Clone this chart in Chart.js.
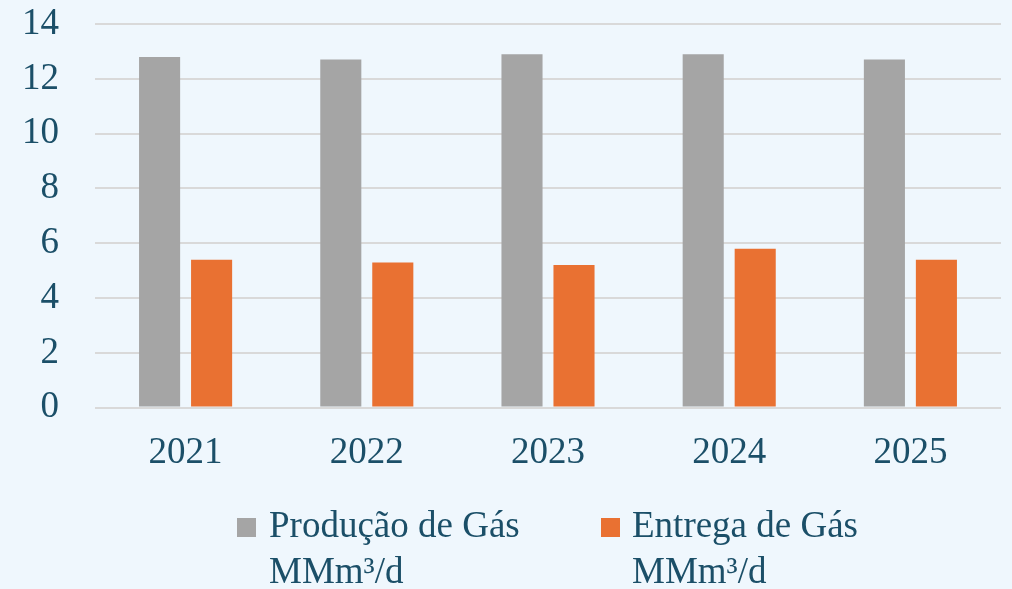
<!DOCTYPE html>
<html>
<head>
<meta charset="utf-8">
<script src="https://cdn.jsdelivr.net/npm/chart.js@4.4.0/dist/chart.umd.min.js"></script>
<style>
  html, body { margin: 0; padding: 0; background: #EFF7FD; }
  #wrap { position: relative; width: 1012px; height: 589px; background: #EFF7FD; overflow: hidden; }
  #box { position: absolute; left: 0; top: 0; width: 1012px; height: 505px; }
  .leg { position: absolute; font-family: "Liberation Serif", serif; font-size: 37px; line-height: 46px; color: #1B4F68; white-space: nowrap; }
  .sq { position: absolute; width: 19px; height: 19px; }
</style>
</head>
<body>
<div id="wrap">
  <div id="box"><canvas id="myChart"></canvas></div>
  <div class="sq" id="sq0" style="left:237px; top:518px;"></div>
  <div class="leg" id="leg0" style="left:269px; top:502px;"></div>
  <div class="sq" id="sq1" style="left:601px; top:518px;"></div>
  <div class="leg" id="leg1" style="left:632px; top:502px;"></div>
</div>
<script>
const anos = ['2021', '2022', '2023', '2024', '2025'];
const producao = [12.8, 12.7, 12.9, 12.9, 12.7];
const entrega = [5.4, 5.3, 5.2, 5.8, 5.4];
const nomes = [['Produção de Gás', 'MMm³/d'], ['Entrega de Gás', 'MMm³/d']];
const cores = ['#A5A5A5', '#E97132'];

const corTexto = '#1B4F68';
const fonte = { family: '"Liberation Serif", serif', size: 37 };

// legenda em html (duas linhas cada)
nomes.forEach((n, i) => {
    document.getElementById('sq' + i).style.background = cores[i];
    document.getElementById('leg' + i).innerHTML = n.join('<br>');
});

const ctx = document.getElementById('myChart');

new Chart(ctx, {
    type: 'bar',
    data: {
        labels: anos,
        datasets: [{
            label: nomes[0].join(' '),
            data: producao,
            backgroundColor: cores[0],
            barPercentage: 0.79,
            categoryPercentage: 0.574
        },
        {
            label: nomes[1].join(' '),
            data: entrega,
            backgroundColor: cores[1],
            barPercentage: 0.79,
            categoryPercentage: 0.574
        }]
    },
    options: {
        responsive: true,
        maintainAspectRatio: false,
        animation: false,
        layout: {
            padding: { left: 22, right: 11, top: 24, bottom: 7 }
        },
        scales: {
            x: {
                grid: { display: false, drawTicks: false },
                border: { display: false },
                ticks: { color: corTexto, font: fonte, padding: 23 }
            },
            y: {
                min: 0,
                max: 14,
                ticks: { stepSize: 2, color: corTexto, font: fonte, padding: 0 },
                // espaço entre rótulos e grade via tickLength (marca invisível)
                grid: { color: '#D9D9D9', lineWidth: 2, drawTicks: true, tickLength: 36, tickColor: 'rgba(0,0,0,0)' },
                border: { display: false }
            }
        },
        plugins: {
            legend: { display: false },
            tooltip: { enabled: false }
        }
    }
});
</script>
</body>
</html>
